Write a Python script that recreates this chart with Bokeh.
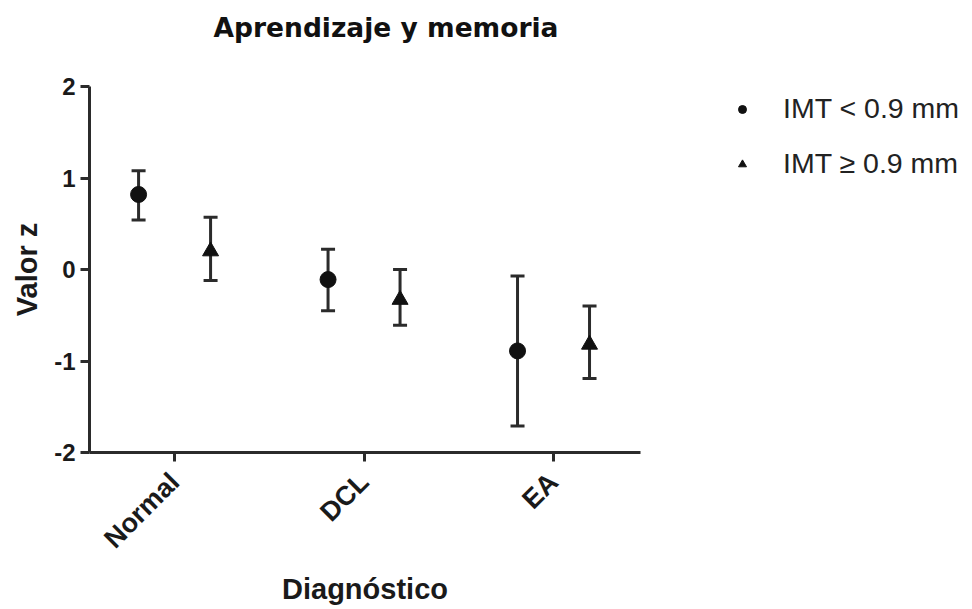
import numpy as np
from bokeh.plotting import figure
from bokeh.models import (Whisker, TeeHead, ColumnDataSource, FixedTicker,
                          Legend, LegendItem, Range1d)
from bokeh.embed import file_html
from bokeh.resources import INLINE

# Diagnostic groups and mean z-scores with their error limits
categories = ["Normal", "DCL", "EA"]
cat_pos = [1, 2, 3]

imt_low_mean = [0.82, -0.11, -0.89]
imt_low_upper = [1.08, 0.22, -0.07]
imt_low_lower = [0.54, -0.45, -1.71]

imt_high_mean = [0.20, -0.33, -0.82]
imt_high_upper = [0.57, 0.00, -0.40]
imt_high_lower = [-0.12, -0.61, -1.19]

y_ticks = [-2, -1, 0, 1, 2]
y_tick_labels = ["-2", "-1", "0", "1", "2"]
dodge = 0.19

AXIS_COLOR = "#2b2b2b"
MARK_COLOR = "#111111"
SANS = "Liberation Sans"

p = figure(frame_width=551, frame_height=366, output_backend="svg",
           toolbar_location=None,
           x_range=Range1d(0.551, 3.459), y_range=Range1d(-2, 2),
           min_border_left=89, min_border_right=332, min_border_top=85,
           min_border_bottom=158)
p.outline_line_color = None
p.grid.visible = False
p.background_fill_color = "white"
p.border_fill_color = "white"

low_src = ColumnDataSource(dict(x=[c - dodge for c in cat_pos], y=imt_low_mean,
                                upper=imt_low_upper, lower=imt_low_lower))
high_src = ColumnDataSource(dict(x=[c + dodge for c in cat_pos], y=imt_high_mean,
                                 upper=imt_high_upper, lower=imt_high_lower))

for src in (low_src, high_src):
    w = Whisker(source=src, base="x", upper="upper", lower="lower",
                line_color=AXIS_COLOR, line_width=3,
                upper_head=TeeHead(size=14, line_color=AXIS_COLOR, line_width=3),
                lower_head=TeeHead(size=14, line_color=AXIS_COLOR, line_width=3))
    p.add_layout(w)

r_low = p.scatter("x", "y", source=low_src, marker="circle", size=16,
                  fill_color=MARK_COLOR, line_color=MARK_COLOR)
r_high = p.scatter("x", "y", source=high_src, marker="triangle", size=16,
                   fill_color=MARK_COLOR, line_color=MARK_COLOR)

# axes
for ax in (p.xaxis[0], p.yaxis[0]):
    ax.axis_line_color = AXIS_COLOR
    ax.axis_line_width = 3
    ax.major_tick_line_color = AXIS_COLOR
    ax.major_tick_line_width = 3
    ax.major_tick_in = 0
    ax.major_tick_out = 9
    ax.minor_tick_line_color = None
    ax.major_label_text_font = SANS
    ax.major_label_text_font_style = "bold"
    ax.major_label_text_color = "#1a1a1a"
    ax.axis_label_text_font = SANS
    ax.axis_label_text_font_style = "bold"
    ax.axis_label_text_font_size = "29px"
    ax.axis_label_text_color = "#1a1a1a"

p.yaxis.ticker = FixedTicker(ticks=y_ticks)
p.yaxis.major_label_overrides = {t: s for t, s in zip(y_ticks, y_tick_labels)}
p.yaxis.major_label_text_font_size = "24px"
p.yaxis.major_label_standoff = 5
p.yaxis.axis_label = "Valor z"
p.yaxis.axis_label_standoff = 8

p.xaxis.ticker = FixedTicker(ticks=cat_pos)
p.xaxis.major_label_overrides = {c: n for c, n in zip(cat_pos, categories)}
p.xaxis.major_label_orientation = np.pi / 4
p.xaxis.major_label_text_font_size = "27px"
p.xaxis.major_label_standoff = 16
p.xaxis.axis_label = "Diagnóstico"
p.xaxis.axis_label_standoff = 6

# title: the trailing blank line leaves room so the title sits near the top
p.title.text = "Aprendizaje y memoria\n "
p.title.text_font = "DejaVu Sans"
p.title.text_font_style = "bold"
p.title.text_font_size = "26.5px"
p.title.align = "left"
p.title.vertical_align = "top"
p.title.offset = 124
p.title.standoff = 22
p.title.text_color = "#111111"

legend = Legend(items=[LegendItem(label="IMT < 0.9 mm", renderers=[r_low]),
                       LegendItem(label="IMT \u2265 0.9 mm", renderers=[r_high])],
                location=(92, 272))
legend.label_text_font = SANS
legend.label_text_font_size = "28.5px"
legend.label_text_color = "#222222"
legend.glyph_width = 20
legend.glyph_height = 30
legend.label_height = 30
legend.label_standoff = 31
legend.spacing = 22
legend.padding = 0
legend.margin = 0
legend.border_line_color = None
legend.background_fill_alpha = 0
p.add_layout(legend, "right")

open("out.html", "w").write(file_html(p, INLINE))
